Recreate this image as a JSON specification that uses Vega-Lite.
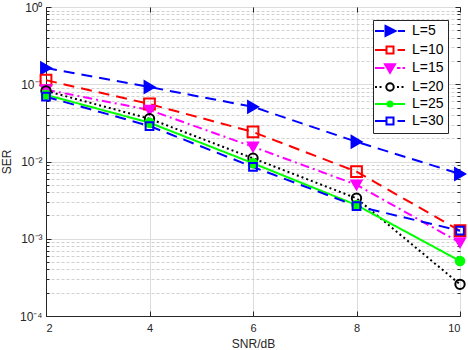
{
  "$schema": "https://vega.github.io/schema/vega-lite/v6.json",
  "width": 414,
  "height": 309,
  "autosize": {"type": "none"},
  "padding": {"left": 46, "top": 7, "right": 8, "bottom": 34},
  "config": {
    "view": {"stroke": "#404040", "strokeWidth": 1},
    "font": "Liberation Sans",
    "axis": {
      "labelFont": "Liberation Sans",
      "titleFont": "Liberation Sans",
      "labelFontSize": 12,
      "titleFontSize": 12,
      "titleFontWeight": "normal",
      "labelColor": "#262626",
      "titleColor": "#262626",
      "domainColor": "#262626",
      "tickColor": "#262626"
    },
    "legend": {
      "fillColor": "white",
      "strokeColor": "#262626",
      "padding": 4,
      "labelFont": "Liberation Sans",
      "labelFontSize": 14,
      "labelColor": "#000000",
      "labelOffset": 15,
      "symbolOffset": 6,
      "symbolSize": 100,
      "symbolStrokeWidth": 2,
      "symbolOpacity": 1,
      "rowPadding": 2
    }
  },
  "data": {
    "values": [
      {"snr": 2, "ser": 0.162, "series": "L=5"},
      {"snr": 4, "ser": 0.092, "series": "L=5"},
      {"snr": 6, "ser": 0.051, "series": "L=5"},
      {"snr": 8, "ser": 0.018, "series": "L=5"},
      {"snr": 10, "ser": 0.0069, "series": "L=5"},
      {"snr": 2, "ser": 0.113, "series": "L=10"},
      {"snr": 4, "ser": 0.0555, "series": "L=10"},
      {"snr": 6, "ser": 0.0241, "series": "L=10"},
      {"snr": 8, "ser": 0.0074, "series": "L=10"},
      {"snr": 10, "ser": 0.00127, "series": "L=10"},
      {"snr": 2, "ser": 0.085, "series": "L=15"},
      {"snr": 4, "ser": 0.0464, "series": "L=15"},
      {"snr": 6, "ser": 0.0155, "series": "L=15"},
      {"snr": 8, "ser": 0.005, "series": "L=15"},
      {"snr": 10, "ser": 0.00089, "series": "L=15"},
      {"snr": 2, "ser": 0.082, "series": "L=20"},
      {"snr": 4, "ser": 0.0358, "series": "L=20"},
      {"snr": 6, "ser": 0.011, "series": "L=20"},
      {"snr": 8, "ser": 0.00334, "series": "L=20"},
      {"snr": 10, "ser": 0.000257, "series": "L=20"},
      {"snr": 2, "ser": 0.073, "series": "L=25"},
      {"snr": 4, "ser": 0.0318, "series": "L=25"},
      {"snr": 6, "ser": 0.0095, "series": "L=25"},
      {"snr": 8, "ser": 0.00273, "series": "L=25"},
      {"snr": 10, "ser": 0.000515, "series": "L=25"},
      {"snr": 2, "ser": 0.069, "series": "L=30"},
      {"snr": 4, "ser": 0.0288, "series": "L=30"},
      {"snr": 6, "ser": 0.0085, "series": "L=30"},
      {"snr": 8, "ser": 0.00265, "series": "L=30"},
      {"snr": 10, "ser": 0.00127, "series": "L=30"}
    ]
  },
  "resolve": {
    "scale": {"x": "independent", "y": "independent", "shape": "independent", "fill": "independent", "stroke": "independent", "size": "independent"},
    "axis": {"x": "independent", "y": "independent"},
    "legend": {"shape": "independent", "fill": "independent", "stroke": "independent"}
  },
  "layer": [
    {
      "mark": {"type": "line", "strokeWidth": 2},
      "encoding": {
        "x": {
          "field": "snr", "type": "quantitative",
          "scale": {"domain": [2, 10], "nice": false, "zero": false},
          "axis": {
            "values": [2, 4, 6, 8, 10],
            "title": "SNR/dB",
            "grid": true,
            "gridColor": "#dcdcdc",
            "tickSize": -5,
            "labelFontSize": 11,
            "labelPadding": 11,
            "titlePadding": 5
          }
        },
        "y": {
          "field": "ser", "type": "quantitative",
          "scale": {"type": "log", "domain": [0.0001, 1], "nice": false},
          "axis": {
            "values": [0.0001, 0.0002, 0.0003, 0.0004, 0.0005, 0.0006, 0.0007, 0.0008, 0.0009,
                       0.001, 0.002, 0.003, 0.004, 0.005, 0.006, 0.007, 0.008, 0.009,
                       0.01, 0.02, 0.03, 0.04, 0.05, 0.06, 0.07, 0.08, 0.09,
                       0.1, 0.2, 0.3, 0.4, 0.5, 0.6, 0.7, 0.8, 0.9, 1],
            "title": "SER",
            "grid": true,
            "gridColor": {"condition": {"test": "abs(log(datum.value)/LN10 - round(log(datum.value)/LN10)) < 0.001", "value": "#dcdcdc"}, "value": "#d0d0d0"},
            "gridDash": {"condition": {"test": "abs(log(datum.value)/LN10 - round(log(datum.value)/LN10)) < 0.001", "value": []}, "value": [3, 2]},
            "tickSize": {"condition": {"test": "abs(log(datum.value)/LN10 - round(log(datum.value)/LN10)) < 0.001", "value": -5}, "value": -3},
            "labelPadding": 9,
            "labelExpr": "abs(log(datum.value)/LN10 - round(log(datum.value)/LN10)) < 0.001 ? (round(log(datum.value)/LN10) == 0 ? '10⁰' : round(log(datum.value)/LN10) == -1 ? '10⁻¹' : round(log(datum.value)/LN10) == -2 ? '10⁻²' : round(log(datum.value)/LN10) == -3 ? '10⁻³' : '10⁻⁴') : ''",
            "titlePadding": 6
          }
        },
        "color": {
          "field": "series", "type": "nominal",
          "scale": {"domain": ["L=5", "L=10", "L=15", "L=20", "L=25", "L=30"],
                    "range": ["#0000ff", "#ff0000", "#ff00ff", "#000000", "#00ff00", "#0000ff"]},
          "legend": null
        },
        "strokeDash": {
          "field": "series", "type": "nominal",
          "scale": {"domain": ["L=5", "L=10", "L=15", "L=20", "L=25", "L=30"],
                    "range": [[11, 7], [11, 7], [9, 4, 2, 4], [2, 3], [1, 0], [11, 7]]},
          "legend": null
        }
      }
    },
    {
      "mark": {"type": "point", "filled": true, "strokeWidth": 2, "opacity": 1},
      "encoding": {
        "x": {
          "field": "snr", "type": "quantitative",
          "scale": {"domain": [2, 10], "nice": false, "zero": false},
          "axis": {"orient": "top", "values": [2, 4, 6, 8, 10], "labels": false, "title": null, "grid": false, "domain": false, "tickSize": -5}
        },
        "y": {
          "field": "ser", "type": "quantitative",
          "scale": {"type": "log", "domain": [0.0001, 1], "nice": false},
          "axis": {
            "orient": "right",
            "values": [0.0001, 0.0002, 0.0003, 0.0004, 0.0005, 0.0006, 0.0007, 0.0008, 0.0009,
                       0.001, 0.002, 0.003, 0.004, 0.005, 0.006, 0.007, 0.008, 0.009,
                       0.01, 0.02, 0.03, 0.04, 0.05, 0.06, 0.07, 0.08, 0.09,
                       0.1, 0.2, 0.3, 0.4, 0.5, 0.6, 0.7, 0.8, 0.9, 1],
            "labels": false, "title": null, "grid": false, "domain": false,
            "tickSize": {"condition": {"test": "abs(log(datum.value)/LN10 - round(log(datum.value)/LN10)) < 0.001", "value": -5}, "value": -3}
          }
        },
        "shape": {
          "field": "series", "type": "nominal",
          "scale": {"domain": ["L=5", "L=10", "L=15", "L=20", "L=25", "L=30"],
                    "range": ["triangle-right", "square", "triangle-down", "circle", "circle", "square"]},
          "legend": null
        },
        "stroke": {
          "field": "series", "type": "nominal",
          "scale": {"domain": ["L=5", "L=10", "L=15", "L=20", "L=25", "L=30"],
                    "range": ["#0000ff", "#ff0000", "#ff00ff", "#000000", "#00ff00", "#0000ff"]},
          "legend": null
        },
        "fill": {
          "field": "series", "type": "nominal",
          "scale": {"domain": ["L=5", "L=10", "L=15", "L=20", "L=25", "L=30"],
                    "range": ["#0000ff", "transparent", "#ff00ff", "transparent", "#00ff00", "transparent"]},
          "legend": null
        },
        "size": {
          "field": "series", "type": "nominal",
          "scale": {"domain": ["L=5", "L=10", "L=15", "L=20", "L=25", "L=30"],
                    "range": [130, 60, 120, 70, 25, 55]},
          "legend": null
        }
      }
    },
    {
      "transform": [{"filter": "false"}],
      "mark": {"type": "point", "filled": true, "strokeWidth": 2, "opacity": 1, "size": 100},
      "encoding": {
        "x": {"field": "snr", "type": "quantitative", "scale": {"domain": [2, 10]}, "axis": null},
        "y": {"field": "ser", "type": "quantitative", "scale": {"type": "log", "domain": [0.0001, 1]}, "axis": null},
        "shape": {
          "field": "series", "type": "nominal",
          "scale": {"domain": ["L=5", "L=10", "L=15", "L=20", "L=25", "L=30"],
                    "range": [
                      "M-3,0H-1.2M1.6,0H3M-0.9,-1L1.1,0L-0.9,1Z",
                      "M-3,0H-0.8M1.5,0H3M-0.7,-0.7H0.7V0.7H-0.7Z",
                      "M-3,0H-1.1M1.4,0H2.1M2.5,0H3M-1,-0.75H1L0,0.95Z",
                      "M-3,0H-2.6M-2.1,0H-1.7M1.4,0H1.8M2.3,0H2.7M-0.75,0A0.75,0.75,0,1,1,0.75,0A0.75,0.75,0,1,1,-0.75,0Z",
                      "M-3,0H3M-0.5,0A0.5,0.5,0,1,1,0.5,0A0.5,0.5,0,1,1,-0.5,0Z",
                      "M-3,0H-0.8M1.5,0H3M-0.7,-0.7H0.7V0.7H-0.7Z"
                    ]},
          "legend": {"title": null, "orient": "none", "legendX": 327, "legendY": 13}
        },
        "stroke": {
          "field": "series", "type": "nominal",
          "scale": {"domain": ["L=5", "L=10", "L=15", "L=20", "L=25", "L=30"],
                    "range": ["#0000ff", "#ff0000", "#ff00ff", "#000000", "#00ff00", "#0000ff"]},
          "legend": {"title": null, "orient": "none", "legendX": 327, "legendY": 13}
        },
        "fill": {
          "field": "series", "type": "nominal",
          "scale": {"domain": ["L=5", "L=10", "L=15", "L=20", "L=25", "L=30"],
                    "range": ["#0000ff", "transparent", "#ff00ff", "transparent", "#00ff00", "transparent"]},
          "legend": {"title": null, "orient": "none", "legendX": 327, "legendY": 13}
        }
      }
    }
  ]
}
